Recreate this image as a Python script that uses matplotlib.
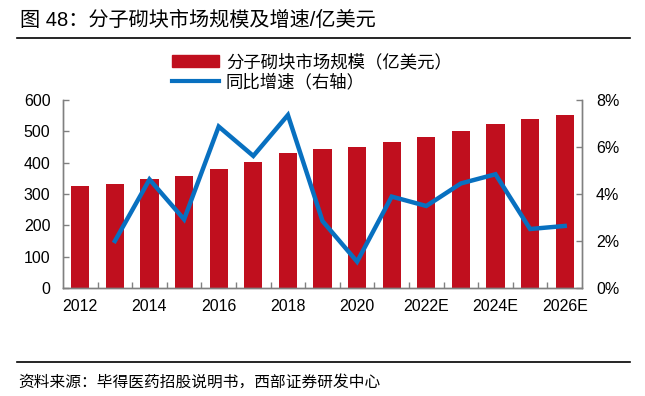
import matplotlib
matplotlib.use("Agg")
import matplotlib.pyplot as plt
import matplotlib.lines as mlines
import numpy as np
from matplotlib.ticker import FuncFormatter, FixedLocator

plt.rcParams["font.family"] = ["Liberation Sans", "Noto Sans CJK SC"]

# data
years = ["2012", "2013", "2014", "2015", "2016", "2017", "2018", "2019",
         "2020", "2021", "2022E", "2023E", "2024E", "2025E", "2026E"]
market_size = [325, 332, 347, 356, 381, 401, 431, 443, 449, 466, 481, 501, 525, 538, 553]
growth_pct = [np.nan, 2.0, 4.62, 2.92, 6.87, 5.62, 7.36, 2.85, 1.12, 3.89, 3.49, 4.45, 4.84, 2.51, 2.64]

title = "图 48：分子砌块市场规模及增速/亿美元"
source = "资料来源：毕得医药招股说明书，西部证券研发中心"
bar_label = "分子砌块市场规模（亿美元）"
line_label = "同比增速（右轴）"

RED = "#C00F1E"
BLUE = "#0870C0"
SPINE = "#808080"

fig = plt.figure(figsize=(6.45, 3.96), dpi=100)
ax = fig.add_axes([63 / 645, 1 - 288 / 396, (582 - 63) / 645, (288 - 100) / 396])
ax2 = ax.twinx()

x = np.arange(len(years))
ax.bar(x, market_size, width=0.53, color=RED, zorder=2)
ax2.plot(x, growth_pct, color=BLUE, linewidth=3.2, solid_joinstyle="miter", zorder=3)

ax.set_xlim(-0.5, len(years) - 0.5)
ax.set_ylim(0, 600)
ax.set_yticks(range(0, 601, 100))
ax2.set_ylim(0, 8)
ax2.set_yticks(range(0, 9, 2))
ax2.yaxis.set_major_formatter(FuncFormatter(lambda v, _: f"{v:.0f}%"))

# labels every other year, tick marks sit between bars
ax.set_xticks(x[::2])
ax.set_xticklabels(years[::2])
ax.xaxis.set_minor_locator(FixedLocator(np.arange(0.5, len(years) - 1, 1)))
ax.tick_params(axis="x", which="major", length=0, pad=8, labelsize=11.5)
ax.tick_params(axis="x", which="minor", length=4, direction="in", color=SPINE, width=1)
ax.tick_params(axis="y", length=4, direction="in", color=SPINE, width=1, pad=9, labelsize=11.5)
ax2.tick_params(axis="y", length=4, direction="in", color=SPINE, width=1, pad=10, labelsize=11.5)

for a in (ax, ax2):
    a.spines["top"].set_visible(False)
    for side in ("left", "right", "bottom"):
        a.spines[side].set_color(SPINE)
        a.spines[side].set_linewidth(1.0)

# legend
bar_handle = plt.Rectangle((0, 0), 1, 1, color=RED)
line_handle = mlines.Line2D([], [], color=BLUE, linewidth=3.0)
fig.legend([bar_handle, line_handle], [bar_label, line_label],
           loc="upper left", bbox_to_anchor=(172 / 645, 1 - 53 / 396),
           frameon=False, fontsize=12.5, handlelength=2.7, handleheight=0.7,
           handletextpad=0.4, labelspacing=0.2, borderaxespad=0, borderpad=0)

# title, source and rules
fig.text(20 / 645, 1 - 20 / 396, title, fontsize=14.5, va="center", ha="left")
fig.text(18 / 645, 1 - 382 / 396, source, fontsize=11.3, va="center", ha="left")
fig.add_artist(mlines.Line2D([17 / 645, 630 / 645], [1 - 38 / 396] * 2,
                             color="black", linewidth=1.2))
fig.add_artist(mlines.Line2D([17 / 645, 630 / 645], [1 - 362 / 396] * 2,
                             color="black", linewidth=1.2))

fig.savefig("out.png", dpi=100)
